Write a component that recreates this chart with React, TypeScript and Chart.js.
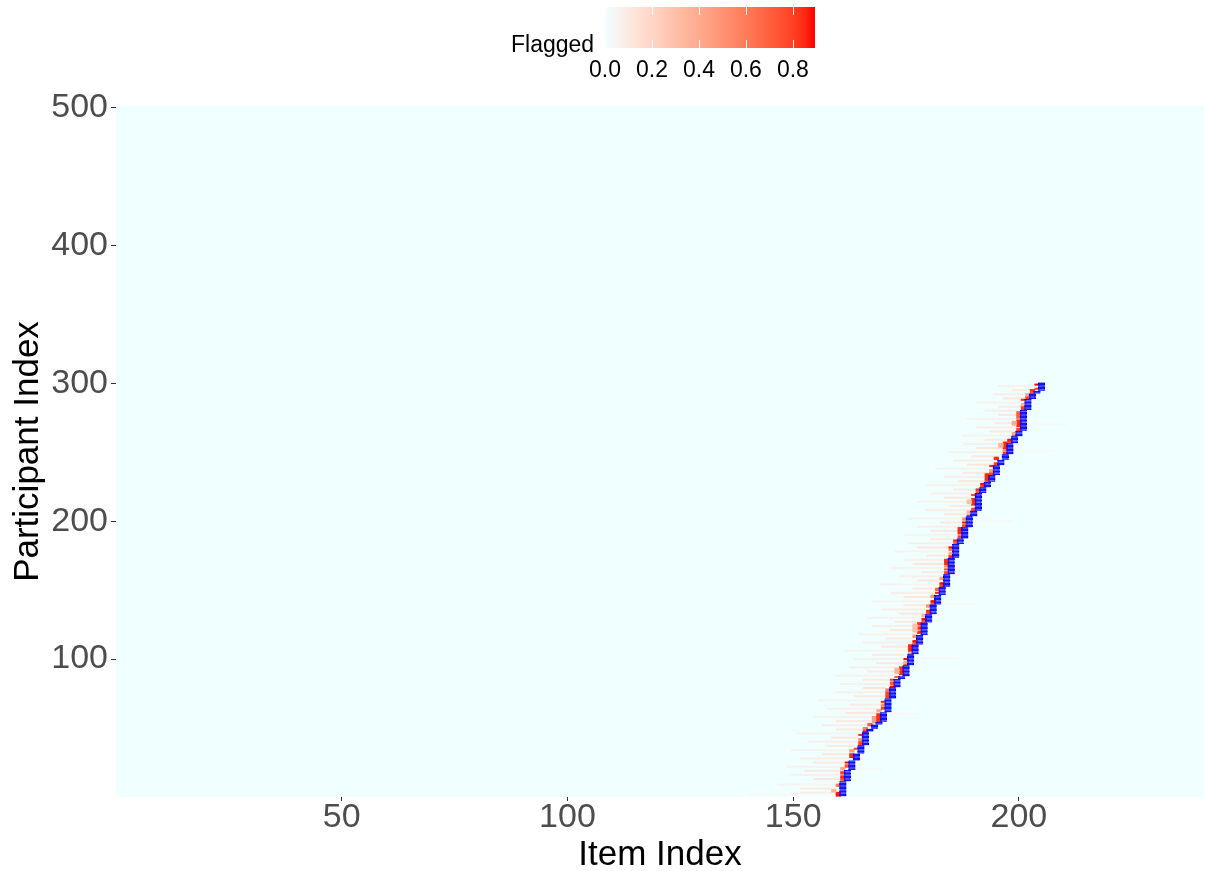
import React, { useEffect, useRef } from 'react';
import { Chart, registerables } from 'chart.js';

Chart.register(...registerables);

const FONT = '"Liberation Sans", Arial, Helvetica, sans-serif';

// ---- axes ----
const xTicks = [50, 100, 150, 200];
const yTicks = [100, 200, 300, 400, 500];
const itemRange = [0, 241];
const participantRange = [0, 501];

// ---- colour legend ----
const legendTicks = [0.0, 0.2, 0.4, 0.6, 0.8];
const flagLimits = [0, 0.894];

// ---- blue path: [first participant of the step, item index] ----
const blueSteps = [
  [1, 161], [12, 162], [20, 163], [27, 164], [32, 165], [38, 166], [48, 167], [50, 168],
  [53, 169], [55, 170], [62, 171], [72, 172], [80, 173], [86, 174], [88, 175], [96, 176],
  [104, 177], [111, 178], [118, 179], [127, 180], [133, 181], [140, 182], [147, 183],
  [153, 184], [162, 185], [174, 186], [184, 187], [188, 188], [196, 189], [204, 190],
  [208, 191], [221, 192], [225, 193], [229, 194], [234, 195], [241, 196], [245, 197],
  [249, 198], [257, 199], [262, 200], [266, 201], [281, 202], [289, 203], [293, 204],
  [295, 205],
];
const blueLastParticipant = 300;

// ---- strongly flagged cells: [participant from, participant to, item, value] ----
const redCells = [
  [1, 3, 160, 0.88], [4, 5, 159, 0.35], [8, 9, 160, 0.6], [12, 13, 161, 0.7], [14, 15, 161, 0.85],
  [17, 18, 161, 0.8], [20, 21, 161, 0.4], [22, 23, 162, 0.75], [25, 25, 162, 0.89], [29, 31, 163, 0.85],
  [33, 34, 163, 0.45], [35, 35, 164, 0.8], [38, 40, 165, 0.8], [41, 42, 165, 0.5], [45, 45, 165, 0.85],
  [47, 48, 166, 0.85], [49, 50, 166, 0.6], [52, 53, 167, 0.7], [54, 58, 168, 0.45], [55, 60, 169, 0.85],
  [62, 63, 169, 0.4], [64, 65, 170, 0.8], [66, 67, 170, 0.5], [69, 69, 170, 0.85], [72, 76, 171, 0.8],
  [77, 78, 171, 0.6], [80, 80, 172, 0.89], [82, 83, 172, 0.75], [85, 85, 172, 0.8], [87, 87, 173, 0.7],
  [89, 94, 174, 0.85], [90, 93, 173, 0.35], [96, 96, 175, 0.8], [97, 98, 175, 0.4], [100, 100, 175, 0.89],
  [103, 104, 176, 0.6], [106, 110, 176, 0.85], [111, 112, 177, 0.75], [113, 113, 177, 0.89],
  [116, 117, 177, 0.5], [119, 120, 178, 0.85], [122, 123, 178, 0.85], [125, 126, 178, 0.85],
  [120, 125, 177, 0.3], [127, 128, 179, 0.75], [129, 129, 179, 0.89], [131, 132, 179, 0.35],
  [133, 134, 180, 0.8], [135, 135, 180, 0.85], [138, 139, 180, 0.5], [140, 141, 181, 0.75],
  [142, 142, 181, 0.89], [145, 146, 181, 0.5], [148, 148, 182, 0.85], [150, 151, 182, 0.7],
  [153, 154, 183, 0.8], [155, 155, 183, 0.89], [158, 159, 183, 0.45], [162, 163, 184, 0.8],
  [165, 165, 184, 0.8], [167, 168, 184, 0.5], [169, 172, 184, 0.85], [174, 175, 185, 0.85],
  [176, 177, 185, 0.4], [179, 180, 185, 0.6], [181, 181, 185, 0.89], [184, 185, 186, 0.7],
  [186, 186, 186, 0.85], [188, 189, 187, 0.8], [191, 195, 187, 0.85], [196, 197, 188, 0.8],
  [199, 199, 188, 0.89], [201, 202, 188, 0.5], [204, 204, 189, 0.85], [206, 207, 189, 0.35],
  [208, 209, 190, 0.8], [212, 216, 190, 0.85], [213, 215, 189, 0.3], [219, 219, 190, 0.8],
  [221, 222, 191, 0.75], [223, 223, 191, 0.85], [225, 226, 192, 0.8], [227, 227, 192, 0.89],
  [229, 229, 193, 0.7], [230, 234, 193, 0.85], [234, 235, 194, 0.8], [236, 237, 194, 0.45],
  [240, 240, 194, 0.85], [241, 242, 195, 0.8], [245, 246, 195, 0.85], [249, 250, 197, 0.8],
  [251, 252, 197, 0.5], [253, 257, 197, 0.85], [254, 256, 196, 0.35], [257, 258, 198, 0.8],
  [259, 259, 198, 0.89], [262, 262, 199, 0.8], [263, 264, 199, 0.4], [266, 267, 200, 0.8],
  [269, 273, 200, 0.85], [270, 272, 199, 0.4], [275, 279, 200, 0.7], [281, 283, 201, 0.8],
  [284, 285, 201, 0.35], [288, 288, 201, 0.85], [289, 290, 202, 0.8], [291, 292, 202, 0.45],
  [293, 294, 203, 0.75], [295, 295, 203, 0.85], [296, 296, 204, 0.8], [299, 299, 204, 0.89],
];

// ---- faint flagged streaks: [participant, item from, item to, value] ----
const faintStreaks = [
  [2, 140, 150, 0.03], [3, 150, 159, 0.06], [6, 152, 159, 0.1], [9, 147, 158, 0.05], [13, 155, 160, 0.12],
  [16, 150, 160, 0.07], [19, 153, 160, 0.1], [20, 164, 170, 0.03], [22, 149, 161, 0.06], [25, 155, 161, 0.1],
  [28, 152, 162, 0.08], [31, 157, 162, 0.12], [34, 150, 163, 0.05], [37, 158, 163, 0.1], [40, 154, 164, 0.08],
  [43, 159, 164, 0.12], [46, 151, 164, 0.05], [49, 160, 165, 0.1], [52, 157, 166, 0.08], [55, 160, 168, 0.1],
  [58, 155, 168, 0.06], [60, 172, 178, 0.03], [61, 162, 168, 0.12], [64, 158, 169, 0.08], [67, 163, 169, 0.1],
  [70, 156, 169, 0.05], [73, 164, 170, 0.1], [76, 160, 170, 0.08], [79, 166, 170, 0.14], [82, 161, 171, 0.07],
  [85, 166, 171, 0.1], [88, 160, 173, 0.06], [91, 167, 173, 0.1], [94, 163, 173, 0.08], [97, 169, 174, 0.12],
  [100, 164, 174, 0.07], [101, 178, 186, 0.03], [103, 168, 174, 0.1], [106, 162, 175, 0.05], [109, 170, 175, 0.12],
  [112, 166, 176, 0.08], [115, 171, 176, 0.1], [118, 165, 177, 0.06], [121, 172, 177, 0.12], [124, 168, 177, 0.08],
  [127, 173, 178, 0.1], [130, 167, 178, 0.06], [133, 174, 179, 0.12], [136, 170, 179, 0.08], [139, 175, 179, 0.1],
  [140, 183, 190, 0.03], [142, 168, 180, 0.05], [145, 175, 180, 0.12], [148, 172, 181, 0.08], [151, 177, 181, 0.1],
  [154, 170, 182, 0.06], [157, 178, 182, 0.12], [160, 174, 182, 0.08], [163, 179, 183, 0.1], [166, 172, 183, 0.06],
  [169, 177, 183, 0.12], [172, 175, 183, 0.08], [175, 180, 184, 0.1], [178, 173, 184, 0.06], [181, 178, 184, 0.12],
  [184, 176, 185, 0.08], [187, 181, 185, 0.1], [190, 175, 186, 0.05], [193, 181, 186, 0.12], [196, 178, 187, 0.08],
  [199, 183, 187, 0.1], [200, 191, 198, 0.03], [202, 176, 187, 0.05], [205, 184, 188, 0.12], [208, 180, 189, 0.08],
  [211, 185, 189, 0.1], [214, 178, 189, 0.06], [217, 184, 189, 0.12], [220, 181, 189, 0.08], [223, 186, 190, 0.1],
  [226, 180, 191, 0.06], [229, 187, 192, 0.12], [232, 184, 192, 0.08], [235, 188, 193, 0.1], [238, 182, 193, 0.06],
  [241, 189, 194, 0.12], [244, 186, 194, 0.08], [247, 190, 195, 0.1], [250, 185, 196, 0.06], [251, 199, 207, 0.03],
  [253, 191, 196, 0.12], [256, 188, 196, 0.08], [259, 193, 197, 0.1], [262, 188, 198, 0.06], [265, 194, 198, 0.12],
  [268, 191, 199, 0.08], [270, 202, 210, 0.03], [271, 195, 199, 0.1], [274, 189, 199, 0.06], [277, 196, 199, 0.12],
  [280, 193, 199, 0.08], [283, 196, 200, 0.1], [286, 191, 200, 0.06], [289, 197, 201, 0.12], [292, 195, 201, 0.08],
  [295, 199, 203, 0.1], [298, 196, 203, 0.06],
];

// ---- colour scale (CIELAB interpolation azure -> red) ----
const LOW = [240, 255, 255];
const HIGH = [255, 0, 0];
function toLab(rgb: number[]) {
  const lin = rgb.map((c) => {
    const v = c / 255;
    return v <= 0.04045 ? v / 12.92 : Math.pow((v + 0.055) / 1.055, 2.4);
  });
  const X = (0.4124 * lin[0] + 0.3576 * lin[1] + 0.1805 * lin[2]) / 0.95047;
  const Y = 0.2126 * lin[0] + 0.7152 * lin[1] + 0.0722 * lin[2];
  const Z = (0.0193 * lin[0] + 0.1192 * lin[1] + 0.9505 * lin[2]) / 1.08883;
  const f = (t: number) => (t > 0.008856 ? Math.cbrt(t) : 7.787 * t + 16 / 116);
  const fx = f(X), fy = f(Y), fz = f(Z);
  return [116 * fy - 16, 500 * (fx - fy), 200 * (fy - fz)];
}
function fromLab(lab: number[]) {
  const fy = (lab[0] + 16) / 116;
  const fx = fy + lab[1] / 500;
  const fz = fy - lab[2] / 200;
  const inv = (t: number) => (t * t * t > 0.008856 ? t * t * t : (t - 16 / 116) / 7.787);
  const X = inv(fx) * 0.95047, Y = inv(fy), Z = inv(fz) * 1.08883;
  const lin = [
    3.2406 * X - 1.5372 * Y - 0.4986 * Z,
    -0.9689 * X + 1.8758 * Y + 0.0415 * Z,
    0.0557 * X - 0.204 * Y + 1.057 * Z,
  ];
  return lin.map((c) => {
    const v = c <= 0.0031308 ? 12.92 * c : 1.055 * Math.pow(Math.max(c, 0), 1 / 2.4) - 0.055;
    return Math.round(Math.min(1, Math.max(0, v)) * 255);
  });
}
const LOW_LAB = toLab(LOW);
const HIGH_LAB = toLab(HIGH);
function flagColor(v: number) {
  const t = Math.min(1, Math.max(0, (v - flagLimits[0]) / (flagLimits[1] - flagLimits[0])));
  const lab = LOW_LAB.map((c, i) => c + (HIGH_LAB[i] - c) * t);
  const rgb = fromLab(lab);
  return `rgb(${rgb[0]},${rgb[1]},${rgb[2]})`;
}

// ---- build library data ----
function buildBlue() {
  const out: any[] = [];
  blueSteps.forEach(([start, item], i) => {
    const end = i + 1 < blueSteps.length ? blueSteps[i + 1][0] - 1 : blueLastParticipant;
    for (let p = start; p <= end; p++) out.push({ x: [item - 0.75, item + 0.75], y: p });
  });
  return out;
}
function buildRed() {
  const out: any[] = [];
  const colors: string[] = [];
  redCells.forEach(([p0, p1, item, v]) => {
    for (let p = p0; p <= p1; p++) {
      out.push({ x: [item - 0.5, item + 0.5], y: p });
      colors.push(flagColor(v));
    }
  });
  return { out, colors };
}
function buildFaint() {
  const out: any[] = [];
  const colors: string[] = [];
  faintStreaks.forEach(([p, a, b, v]) => {
    out.push({ x: [a - 0.5, b + 0.5], y: p });
    colors.push(flagColor(v));
  });
  return { out, colors };
}

const panelBackground = {
  id: 'panelBackground',
  beforeDatasetsDraw(chart: any) {
    const { ctx, chartArea: a } = chart;
    ctx.save();
    ctx.fillStyle = flagColor(0);
    ctx.fillRect(a.left, a.top, a.right - a.left, a.bottom - a.top);
    ctx.restore();
  },
};

const W = 1205;
const H = 871;
const BAR_LEFT = 605;
const BAR_WIDTH = 210;
const BAR_TOP = 7;
const BAR_HEIGHT = 41;

export default function App() {
  const canvasRef = useRef<HTMLCanvasElement | null>(null);

  useEffect(() => {
    const canvas = canvasRef.current;
    if (!canvas) return;
    const red = buildRed();
    const faint = buildFaint();
    const common = { grouped: false, barPercentage: 1, categoryPercentage: 1, borderSkipped: false };
    const chart = new Chart(canvas, {
      type: 'bar',
      data: {
        datasets: [
          {
            label: 'path',
            data: buildBlue(),
            backgroundColor: '#1414FF',
            borderColor: '#0000C4',
            borderWidth: { left: 1, right: 1, top: 0, bottom: 0 },
            ...common,
          } as any,
          { label: 'flagged', data: red.out, backgroundColor: red.colors, borderWidth: 0, ...common } as any,
          { label: 'faint', data: faint.out, backgroundColor: faint.colors, borderWidth: 0, ...common } as any,
        ],
      },
      plugins: [panelBackground],
      options: {
        animation: false,
        responsive: false,
        indexAxis: 'y',
        layout: { padding: { top: 106, right: 1, left: 0, bottom: 0 } },
        plugins: { legend: { display: false }, tooltip: { enabled: false } },
        scales: {
          x: {
            type: 'linear',
            min: itemRange[0],
            max: itemRange[1],
            afterBuildTicks: (s: any) => { s.ticks = xTicks.map((v) => ({ value: v })); },
            afterFit: (s: any) => { s.height = H - 797; },
            ticks: { font: { family: FONT, size: 34, lineHeight: 1.0 }, color: '#4D4D4D', padding: 0, maxRotation: 0 },
            grid: { drawOnChartArea: false, drawTicks: true, tickLength: 4, color: '#333333' },
            border: { display: false },
            title: {
              display: true, text: 'Item Index',
              font: { family: FONT, size: 35, lineHeight: 0.9 }, color: '#000000', padding: { top: 0, bottom: 0 },
            },
          },
          y: {
            type: 'linear',
            offset: false,
            min: participantRange[0],
            max: participantRange[1],
            afterBuildTicks: (s: any) => { s.ticks = yTicks.map((v) => ({ value: v })); },
            afterFit: (s: any) => { s.width = 116; },
            ticks: { font: { family: FONT, size: 34 }, color: '#4D4D4D', padding: 3 },
            grid: { drawOnChartArea: false, drawTicks: true, tickLength: 5, color: '#333333', offset: false },
            border: { display: false },
            title: {
              display: true, text: 'Participant Index',
              font: { family: FONT, size: 35 }, color: '#000000', padding: { top: 7, bottom: 0 },
            },
          },
        },
      } as any,
    });
    return () => chart.destroy();
  }, []);

  const gradStops: string[] = [];
  for (let i = 0; i <= 20; i++) {
    const v = flagLimits[0] + ((flagLimits[1] - flagLimits[0]) * i) / 20;
    gradStops.push(`${flagColor(v)} ${(i * 5).toFixed(0)}%`);
  }
  const valueToX = (v: number) => BAR_LEFT + (BAR_WIDTH * (v - flagLimits[0])) / (flagLimits[1] - flagLimits[0]);

  return (
    <div style={{ position: 'absolute', left: 0, top: 0, width: W, height: H, background: '#FFFFFF', overflow: 'hidden' }}>
      <canvas ref={canvasRef} width={W} height={H} style={{ position: 'absolute', left: 0, top: 0, width: W, height: H }} />
      <div style={{ position: 'absolute', left: 511, top: 31, fontFamily: FONT, fontSize: 23, color: '#000', whiteSpace: 'nowrap' }}>Flagged</div>
      <div
        style={{
          position: 'absolute', left: BAR_LEFT, top: BAR_TOP, width: BAR_WIDTH, height: BAR_HEIGHT,
          background: `linear-gradient(to right, ${gradStops.join(', ')})`,
        }}
      />
      {legendTicks.map((t) => (
        <React.Fragment key={t}>
          <div style={{ position: 'absolute', left: Math.round(valueToX(t)), top: BAR_TOP, width: 1, height: 8, background: 'rgba(255,255,255,0.9)' }} />
          <div style={{ position: 'absolute', left: Math.round(valueToX(t)), top: BAR_TOP + BAR_HEIGHT - 8, width: 1, height: 8, background: 'rgba(255,255,255,0.9)' }} />
          <div
            style={{
              position: 'absolute', left: valueToX(t) - 30, width: 60, top: 56, textAlign: 'center',
              fontFamily: FONT, fontSize: 23, color: '#000', whiteSpace: 'nowrap',
            }}
          >
            {t.toFixed(1)}
          </div>
        </React.Fragment>
      ))}
    </div>
  );
}
